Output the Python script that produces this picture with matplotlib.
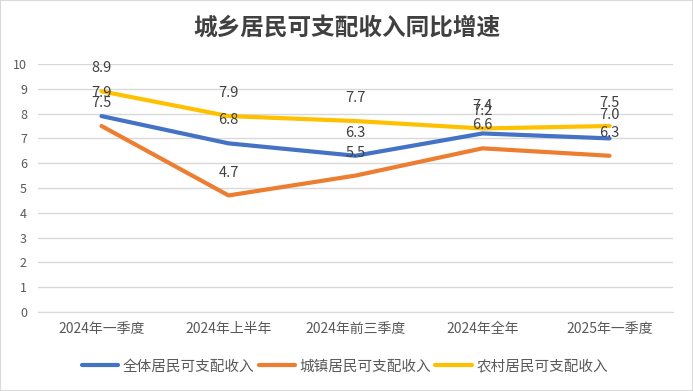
import matplotlib
matplotlib.use("Agg")
import matplotlib.pyplot as plt
from matplotlib.patches import Rectangle

plt.rcParams['font.family'] = ['Noto Sans CJK SC', 'DejaVu Sans']

categories = ["2024年一季度", "2024年上半年", "2024年前三季度", "2024年全年", "2025年一季度"]
series_names = ["全体居民可支配收入", "城镇居民可支配收入", "农村居民可支配收入"]
all_income = [7.9, 6.8, 6.3, 7.2, 7.0]
urban_income = [7.5, 4.7, 5.5, 6.6, 6.3]
rural_income = [8.9, 7.9, 7.7, 7.4, 7.5]
colors = ["#4472C4", "#ED7D31", "#FFC000"]
title = "城乡居民可支配收入同比增速"

fig = plt.figure(figsize=(6.93, 3.91), dpi=100)
ax = fig.add_axes([38/693, 1-312/391, 635/693, 248/391])

x = list(range(len(categories)))
for name, vals, c in zip(series_names, [all_income, urban_income, rural_income], colors):
    ax.plot(x, vals, color=c, lw=3, label=name, solid_capstyle='round', zorder=3)
    for xi, v in zip(x, vals):
        ax.annotate(f"{v:.1f}", (xi, v), xytext=(0, 16.5), textcoords='offset points',
                    ha='center', va='center', fontsize=10.5, color='#404040', zorder=4)

ax.set_xlim(-0.5, len(categories) - 0.5)
ax.set_ylim(0, 10)
ax.set_yticks(range(0, 11))
ax.set_xticks(x)
ax.set_xticklabels(categories)
ax.tick_params(axis='both', length=0, colors='#595959')
ax.tick_params(axis='x', pad=7, labelsize=10)
ax.tick_params(axis='y', pad=8, labelsize=9)
ax.grid(axis='y', color='#D9D9D9', lw=1)
ax.set_axisbelow(True)
for s in ['top', 'right', 'left']:
    ax.spines[s].set_visible(False)
ax.spines['bottom'].set_color('#D9D9D9')

fig.text(0.5, 1-27.5/391, title, ha='center', va='center', fontsize=17, color='#404040', fontweight='bold')

leg = fig.legend(loc='center', bbox_to_anchor=(345/693, 1-366.5/391), ncol=3, frameon=False,
                 fontsize=10.5, handlelength=2.5, handletextpad=0.33, columnspacing=0.27,
                 labelcolor='#595959', borderpad=0, borderaxespad=0)

fig.patches.append(Rectangle((0, 0), 1, 1, transform=fig.transFigure, fill=False,
                             edgecolor='#D9D9D9', lw=1.5))

fig.savefig("out.png", dpi=100)
